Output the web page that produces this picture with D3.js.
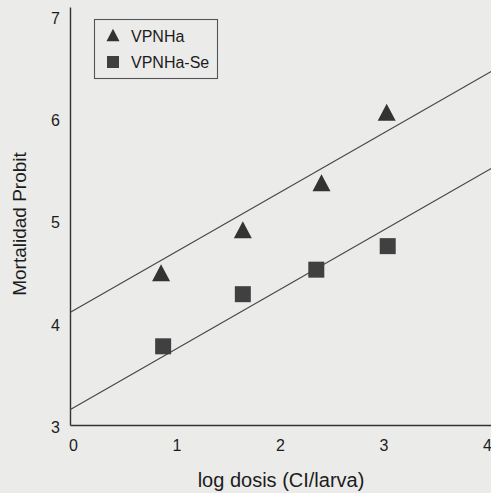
<!DOCTYPE html>
<html><head><meta charset="utf-8">
<script src="https://cdn.jsdelivr.net/npm/d3@7"></script>
<style>html,body{margin:0;padding:0;background:#ebebea;}svg{display:block;}</style>
</head><body>
<svg id="chart" width="491" height="493"></svg>
<script>
// Data
const seriesNames = ["VPNHa", "VPNHa-Se"];
const vpnhaX = [0.88, 1.67, 2.43, 3.06];
const vpnhaY = [4.49, 4.91, 5.37, 6.06];
const vpnhaSeX = [0.90, 1.67, 2.38, 3.07];
const vpnhaSeY = [3.77, 4.28, 4.52, 4.75];
const lineX = [0, 4.07];
const vpnhaLineY = [4.10, 6.46];
const vpnhaSeLineY = [3.15, 5.51];
const xTicks = [0, 1, 2, 3, 4];
const yTicks = [3, 4, 5, 6, 7];

const svg = d3.select("#chart");
const font = "'Liberation Sans', Arial, sans-serif";
const ink = "#1c1c1c";

svg.append("rect").attr("width", 491).attr("height", 493).attr("fill", "#ebebea");

const x = d3.scaleLinear().domain([0, 4.068]).range([70, 491]);
const y = d3.scaleLinear().domain([3, 7.09]).range([425, 7]);

// axes
const yAxis = d3.axisLeft(y).tickValues(yTicks).tickSize(0).tickPadding(10).tickFormat(d3.format("d"));
const gy = svg.append("g").attr("transform", "translate(70,0)").call(yAxis);
gy.select(".domain").attr("stroke", "#333").attr("stroke-width", 1.4);
gy.selectAll("text").attr("font-family", font).attr("font-size", 16).attr("fill", ink).attr("dy", "0.45em");

const xAxis = d3.axisBottom(x).tickValues(xTicks).tickSize(0).tickPadding(15).tickFormat(d3.format("d"));
const gx = svg.append("g").attr("transform", "translate(0,425)").call(xAxis);
gx.select(".domain").attr("stroke", "#333").attr("stroke-width", 1.4);
gx.selectAll("text").attr("font-family", font).attr("font-size", 16).attr("fill", ink).attr("dx", "3");

// regression lines
const line = d3.line().x(d => x(d[0])).y(d => y(d[1]));
[vpnhaLineY, vpnhaSeLineY].forEach(ly => {
  svg.append("path").attr("d", line(lineX.map((v, i) => [v, ly[i]])))
    .attr("fill", "none").attr("stroke", "#444").attr("stroke-width", 1.1);
});

// markers
function tri(cx, cy, s) {
  const h = s * 0.95;
  return `M${cx},${cy - h / 2}L${cx + s / 2},${cy + h / 2}L${cx - s / 2},${cy + h / 2}Z`;
}
svg.append("g").selectAll("path").data(vpnhaX.map((v, i) => [v, vpnhaY[i]])).join("path")
  .attr("d", d => tri(x(d[0]), y(d[1]), 18)).attr("fill", "#333");
svg.append("g").selectAll("rect").data(vpnhaSeX.map((v, i) => [v, vpnhaSeY[i]])).join("rect")
  .attr("x", d => x(d[0]) - 8).attr("y", d => y(d[1]) - 8).attr("width", 16).attr("height", 16)
  .attr("fill", "#404040");

// legend
const lg = svg.append("g");
lg.append("rect").attr("x", 94.5).attr("y", 19.5).attr("width", 123).attr("height", 59)
  .attr("fill", "none").attr("stroke", "#555").attr("stroke-width", 1.1);
lg.append("path").attr("d", tri(113, 35, 13)).attr("fill", "#333");
lg.append("rect").attr("x", 107).attr("y", 56).attr("width", 12).attr("height", 12).attr("fill", "#404040");
lg.append("text").attr("x", 131).attr("y", 42).text(seriesNames[0])
  .attr("font-family", font).attr("font-size", 16).attr("fill", ink);
lg.append("text").attr("x", 131).attr("y", 68).text(seriesNames[1])
  .attr("font-family", font).attr("font-size", 16).attr("fill", ink);

// axis titles
svg.append("text").attr("x", 281).attr("y", 487).attr("text-anchor", "middle")
  .attr("font-family", font).attr("font-size", 20).attr("fill", ink).text("log dosis (CI/larva)");
svg.append("text").attr("transform", "translate(26,224) rotate(-90)").attr("text-anchor", "middle")
  .attr("font-family", font).attr("font-size", 19).attr("fill", ink).text("Mortalidad Probit");
</script>
</body></html>
